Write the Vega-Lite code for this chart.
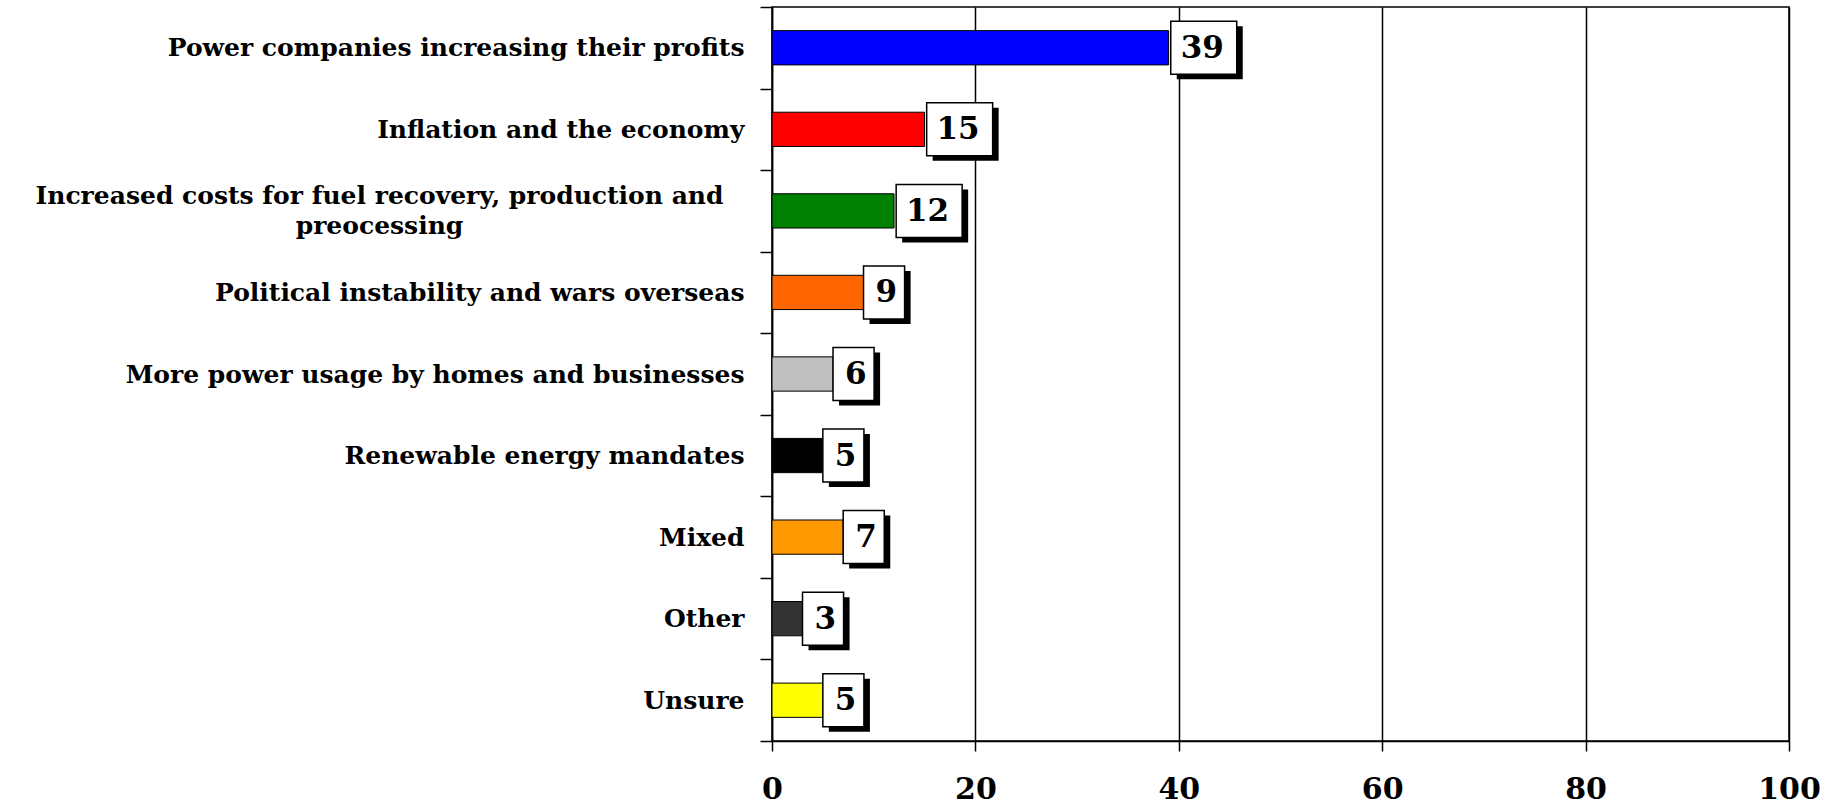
{
  "$schema": "https://vega.github.io/schema/vega-lite/v6.json",
  "width": 1017,
  "height": 734,
  "autosize": {"type": "none"},
  "padding": {"left": 772, "top": 7, "right": 56, "bottom": 63},
  "background": "white",
  "config": {"view": {"stroke": "black", "strokeWidth": 1.5}, "font": "DejaVu Serif"},
  "data": {"values": [
    {"cause": "Power companies increasing their profits", "value": 39},
    {"cause": "Inflation and the economy", "value": 15},
    {"cause": "Increased costs for fuel recovery, production and preocessing", "value": 12},
    {"cause": "Political instability and wars overseas", "value": 9},
    {"cause": "More power usage by homes and businesses", "value": 6},
    {"cause": "Renewable energy mandates", "value": 5},
    {"cause": "Mixed", "value": 7},
    {"cause": "Other", "value": 3},
    {"cause": "Unsure", "value": 5}
  ]},
  "encoding": {
    "y": {
      "field": "cause", "type": "nominal", "sort": null,
      "scale": {"paddingInner": 0, "paddingOuter": 0},
      "axis": {
        "title": null,
        "domainColor": "black", "domainWidth": 1.5,
        "tickColor": "black", "tickSize": 12, "tickWidth": 1.5, "tickBand": "extent",
        "labelFont": "DejaVu Serif", "labelFontWeight": "bold", "labelFontSize": 25,
        "labelColor": "black", "labelLimit": 900, "labelLineHeight": 30,
        "labelExpr": "datum.value == 'Increased costs for fuel recovery, production and preocessing' ? ['Increased costs for fuel recovery, production and', 'preocessing'] : datum.label",
        "labelAlign": {"condition": {"test": "datum.value == 'Increased costs for fuel recovery, production and preocessing'", "value": "center"}, "value": "right"},
        "labelPadding": {"condition": {"test": "datum.value == 'Increased costs for fuel recovery, production and preocessing'", "value": 381}, "value": 16},
        "labelOffset": {"condition": {"test": "datum.value == 'Increased costs for fuel recovery, production and preocessing'", "value": -15}, "value": 0}
      }
    },
    "x": {
      "field": "value", "type": "quantitative",
      "scale": {"domain": [0, 100], "nice": false},
      "axis": {
        "values": [0, 20, 40, 60, 80, 100], "title": null,
        "grid": true, "gridColor": "black", "gridWidth": 1.5, "gridOpacity": 1,
        "domainColor": "black", "domainWidth": 1.5,
        "tickColor": "black", "tickSize": 10, "tickWidth": 1.5,
        "labelFont": "DejaVu Serif", "labelFontWeight": "bold", "labelFontSize": 30,
        "labelColor": "black", "labelPadding": 23, "labelFlush": false
      }
    }
  },
  "layer": [
    {
      "mark": {"type": "bar", "stroke": "black", "strokeWidth": 1, "opacity": 1, "height": {"band": 0.42}},
      "encoding": {
        "color": {
          "field": "cause", "type": "nominal", "legend": null,
          "scale": {
            "domain": ["Power companies increasing their profits", "Inflation and the economy", "Increased costs for fuel recovery, production and preocessing", "Political instability and wars overseas", "More power usage by homes and businesses", "Renewable energy mandates", "Mixed", "Other", "Unsure"],
            "range": ["#0000FF", "#FF0000", "#008000", "#FF6600", "#C0C0C0", "#000000", "#FF9900", "#333333", "#FFFF00"]
          }
        }
      }
    },
    {
      "mark": {"type": "point", "filled": true, "fill": "black", "strokeWidth": 0, "size": 2809, "opacity": 1, "xOffset": 6, "yOffset": 5},
      "encoding": {
        "shape": {"condition": {"test": "datum.value >= 10", "value": "M0.08,-1H2.57V1H0.08Z"}, "value": "M0,-1H1.55V1H0Z"}
      }
    },
    {
      "mark": {"type": "point", "filled": true, "fill": "white", "stroke": "black", "strokeWidth": 1.5, "size": 2809, "opacity": 1},
      "encoding": {
        "shape": {"condition": {"test": "datum.value >= 10", "value": "M0.08,-1H2.57V1H0.08Z"}, "value": "M0,-1H1.55V1H0Z"}
      }
    },
    {
      "mark": {"type": "text", "align": "left", "baseline": "middle", "dx": 12, "dy": 1, "font": "DejaVu Serif", "fontWeight": "bold", "fontSize": 31, "color": "black"},
      "encoding": {"text": {"field": "value", "type": "quantitative"}}
    }
  ]
}
